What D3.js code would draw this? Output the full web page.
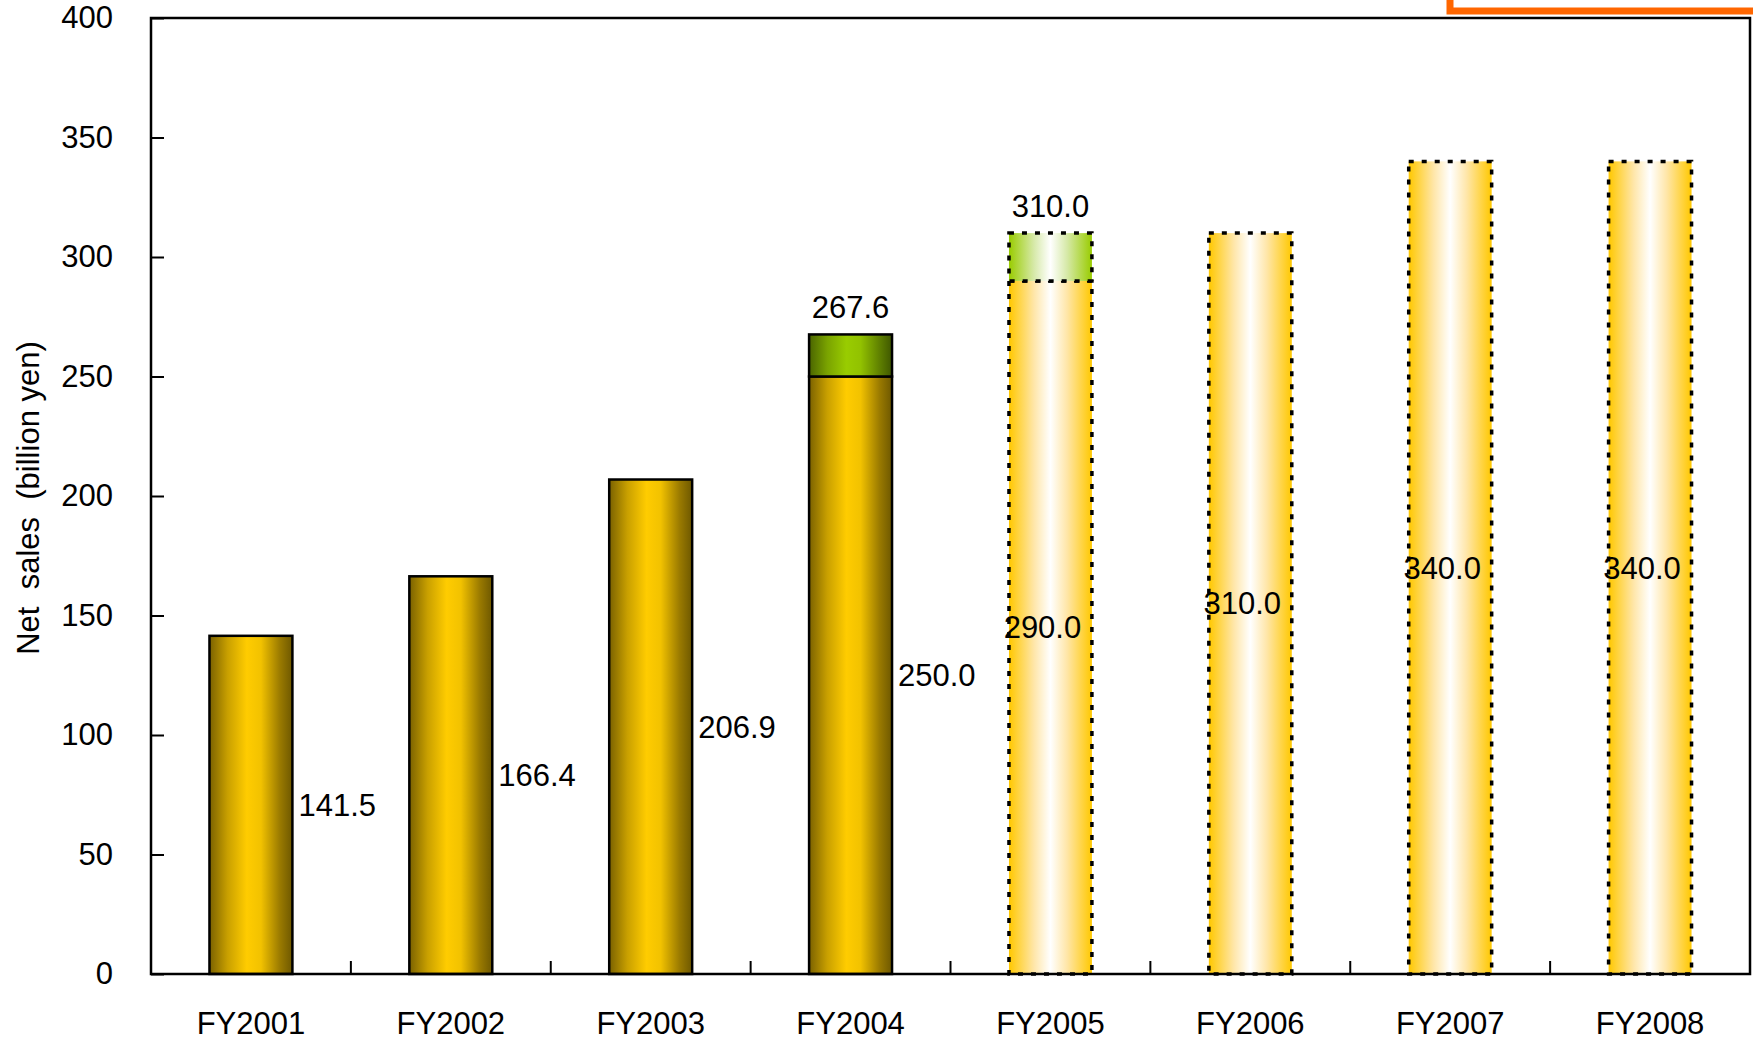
<!DOCTYPE html>
<html>
<head>
<meta charset="utf-8">
<script src="https://cdn.jsdelivr.net/npm/d3@7"></script>
<style>
  html, body { margin: 0; padding: 0; background: #fff; }
  svg { display: block; font-family: "Liberation Sans", Arial, sans-serif; }
</style>
</head>
<body>
<svg id="chart" width="1753" height="1041"></svg>
<script>
// Net sales by fiscal year (billion yen); FY2005 onward are plan figures
const categories = ["FY2001", "FY2002", "FY2003", "FY2004", "FY2005", "FY2006", "FY2007", "FY2008"];
const baseValues = [141.5, 166.4, 206.9, 250.0, 290.0, 310.0, 340.0, 340.0];
const totalValues = [null, null, null, 267.6, 310.0, null, null, null];
const isPlan = [false, false, false, false, true, true, true, true];
const yTicks = [0, 50, 100, 150, 200, 250, 300, 350, 400];

(function () {
const svg = d3.select("#chart");
const plotLeft = 151, plotRight = 1750, plotTop = 18, plotBottom = 974;
const fontSize = 31;

const x = d3.scaleBand().domain(categories).range([plotLeft, plotRight]).padding(0);
const y = d3.scaleLinear().domain([0, 400]).range([plotBottom, plotTop]);
const barW = x.bandwidth() * 0.415;

// gradients
const defs = svg.append("defs");
function hGrad(id, stops) {
  const g = defs.append("linearGradient").attr("id", id)
    .attr("x1", "0%").attr("x2", "100%").attr("y1", "0%").attr("y2", "0%");
  stops.forEach(([o, c]) => g.append("stop").attr("offset", o).attr("stop-color", c));
}
hGrad("goldSolid", [["0%", "#7a6100"], ["22%", "#c9a000"], ["45%", "#ffcc00"], ["62%", "#f2c200"], ["85%", "#9a7a00"], ["100%", "#6e5800"]]);
hGrad("greenSolid", [["0%", "#4a6400"], ["22%", "#7aa300"], ["45%", "#99cc00"], ["62%", "#92c200"], ["85%", "#5f8000"], ["100%", "#3f5700"]]);
hGrad("goldPlan", [["0%", "#ffc800"], ["30%", "#ffe6a8"], ["50%", "#ffffff"], ["70%", "#ffe6a8"], ["100%", "#ffc800"]]);
hGrad("greenPlan", [["0%", "#99cc00"], ["30%", "#d6e9a8"], ["50%", "#ffffff"], ["70%", "#d6e9a8"], ["100%", "#99cc00"]]);

// orange frame peeking in at the top right
svg.append("rect").attr("x", 1450).attr("y", -60).attr("width", 400).attr("height", 71)
  .attr("fill", "none").attr("stroke", "#ff6600").attr("stroke-width", 7);

const bars = categories.map((c, i) => ({
  cat: c, base: baseValues[i], total: totalValues[i], plan: isPlan[i]
}));

const g = svg.append("g");

// base segments
g.selectAll("rect.base").data(bars).join("rect")
  .attr("class", "base")
  .attr("x", d => x(d.cat) + (x.bandwidth() - barW) / 2)
  .attr("width", barW)
  .attr("y", d => y(d.base))
  .attr("height", d => y(0) - y(d.base))
  .attr("fill", d => d.plan ? "url(#goldPlan)" : "url(#goldSolid)")
  .attr("stroke", "#000")
  .attr("stroke-width", d => d.plan ? 3.5 : 2.5)
  .attr("stroke-dasharray", d => d.plan ? "5,8" : null);

// upper segments (difference up to the total)
g.selectAll("rect.top").data(bars.filter(d => d.total != null)).join("rect")
  .attr("class", "top")
  .attr("x", d => x(d.cat) + (x.bandwidth() - barW) / 2)
  .attr("width", barW)
  .attr("y", d => y(d.total))
  .attr("height", d => y(d.base) - y(d.total))
  .attr("fill", d => d.plan ? "url(#greenPlan)" : "url(#greenSolid)")
  .attr("stroke", "#000")
  .attr("stroke-width", d => d.plan ? 3.5 : 2.5)
  .attr("stroke-dasharray", d => d.plan ? "5,8" : null);

// plot frame
svg.append("rect").attr("x", plotLeft).attr("y", plotTop)
  .attr("width", plotRight - plotLeft).attr("height", plotBottom - plotTop)
  .attr("fill", "none").attr("stroke", "#000").attr("stroke-width", 2.5);

// y axis
const yAxis = d3.axisLeft(y).tickValues(yTicks).tickFormat(d3.format("d"))
  .tickSizeInner(-13).tickSizeOuter(0).tickPadding(38);
const ya = svg.append("g").attr("transform", `translate(${plotLeft},0)`).call(yAxis);
ya.select(".domain").remove();
ya.selectAll("line").attr("stroke", "#000").attr("stroke-width", 2);
ya.selectAll("text").attr("font-size", fontSize).attr("fill", "#000")
  .attr("font-family", "Liberation Sans, Arial, sans-serif");

// x axis: labels at band centres, ticks at band boundaries
const xAxis = d3.axisBottom(x).tickSize(0).tickPadding(38);
const xa = svg.append("g").attr("transform", `translate(0,${plotBottom})`).call(xAxis);
xa.select(".domain").remove();
xa.selectAll("text").attr("font-size", fontSize).attr("fill", "#000")
  .attr("font-family", "Liberation Sans, Arial, sans-serif");
svg.append("g").selectAll("line").data(categories.slice(1)).join("line")
  .attr("x1", d => x(d)).attr("x2", d => x(d))
  .attr("y1", plotBottom).attr("y2", plotBottom - 13)
  .attr("stroke", "#000").attr("stroke-width", 2);

// axis title
svg.append("text")
  .attr("transform", `translate(39,${(plotTop + plotBottom) / 2 + 2}) rotate(-90)`)
  .attr("text-anchor", "middle").attr("font-size", fontSize).attr("fill", "#000")
  .style("white-space", "pre")
  .text("Net  sales  (billion yen)");

// value labels for the base segments
const fmt = d3.format(".1f");
g.selectAll("text.baseLbl").data(bars).join("text")
  .attr("class", "baseLbl")
  .attr("x", d => d.plan ? x(d.cat) + x.bandwidth() / 2 - 8 : x(d.cat) + (x.bandwidth() + barW) / 2 + 6)
  .attr("y", d => y(d.base / 2))
  .attr("dy", "0.35em")
  .attr("text-anchor", d => d.plan ? "middle" : "start")
  .attr("font-size", fontSize).attr("fill", "#000")
  .text(d => fmt(d.base));

// total labels above stacked bars
g.selectAll("text.totLbl").data(bars.filter(d => d.total != null)).join("text")
  .attr("class", "totLbl")
  .attr("x", d => x(d.cat) + x.bandwidth() / 2)
  .attr("y", d => y(d.total) - 16)
  .attr("text-anchor", "middle")
  .attr("font-size", fontSize).attr("fill", "#000")
  .text(d => fmt(d.total));
})();
</script>
</body>
</html>
